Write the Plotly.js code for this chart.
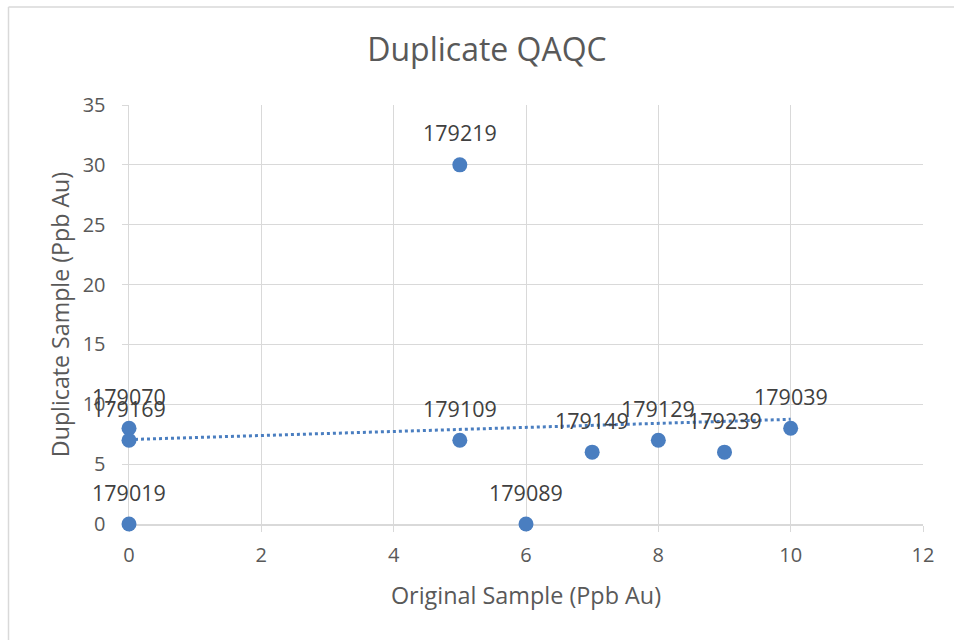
<!DOCTYPE html>
<html>
<head>
<meta charset="utf-8">
<script src="https://cdn.plot.ly/plotly-3.0.1.min.js"></script>
<style>html,body{margin:0;padding:0;background:#fff;}#chart{width:954px;height:640px;}</style>
</head>
<body>
<div id="chart"></div>
<script>
// Data
const sampleIds = ["179070","179169","179019","179219","179109","179089","179149","179129","179239","179039"];
const originalAu = [0, 0, 0, 5, 5, 6, 7, 8, 9, 10];
const duplicateAu = [8, 7, 0, 30, 7, 0, 6, 7, 6, 8];
const xTicks = [0, 2, 4, 6, 8, 10, 12];
const yTicks = [0, 5, 10, 15, 20, 25, 30, 35];

// Linear trendline (least squares) computed from the data
const n = originalAu.length;
const mx = originalAu.reduce((a,b)=>a+b,0)/n;
const my = duplicateAu.reduce((a,b)=>a+b,0)/n;
let sxy = 0, sxx = 0;
for (let i=0;i<n;i++){ sxy += (originalAu[i]-mx)*(duplicateAu[i]-my); sxx += (originalAu[i]-mx)**2; }
const slope = sxy/sxx, intercept = my - slope*mx;
const xmin = Math.min(...originalAu), xmax = Math.max(...originalAu);
const trendX = [], trendY = [];
for (let i=0;i<=50;i++){ const x = xmin + (xmax-xmin)*i/50; trendX.push(x); trendY.push(intercept+slope*x); }

const blue = "#4A7EC0";
const font = "Open Sans, sans-serif";

const traces = [
  {x: trendX, y: trendY, type: "scatter", mode: "lines", cliponaxis: false,
   line: {color: blue, width: 3, dash: "dot"}, hoverinfo: "skip", showlegend: false},
  {x: originalAu, y: duplicateAu, type: "scatter", mode: "markers", cliponaxis: false,
   marker: {color: blue, size: 15}, showlegend: false}
];

const annotations = sampleIds.map((id,i)=>({
  x: originalAu[i], y: duplicateAu[i], text: id, showarrow: false,
  yshift: 32, font: {family: font, size: 21.5, color: "#404040"}
}));

const layout = {
  width: 954, height: 640,
  margin: {l: 129, r: 31, t: 105, b: 116},
  paper_bgcolor: "#fff", plot_bgcolor: "#fff",
  font: {family: font, color: "#595959"},
  title: {text: "Duplicate QAQC", font: {family: font, size: 32, color: "#595959"},
          x: 487/954, xref: "container", xanchor: "center",
          y: 1-50/640, yref: "container", yanchor: "middle"},
  xaxis: {range: [0, 12], tickvals: xTicks, showgrid: true, gridcolor: "#d9d9d9", gridwidth: 1,
          zeroline: false, showline: true, linecolor: "#d9d9d9", linewidth: 1.5, layer: "below traces",
          ticks: "outside", ticklen: 6, tickcolor: "#d9d9d9",
          tickfont: {family: font, size: 20, color: "#595959"}, ticklabelstandoff: 6,
          title: {text: "Original Sample (Ppb Au)", font: {family: font, size: 23.4, color: "#595959"}, standoff: 21}},
  yaxis: {range: [0, 35], tickvals: yTicks, showgrid: true, gridcolor: "#d9d9d9", gridwidth: 1,
          zeroline: false, showline: true, linecolor: "#d9d9d9", linewidth: 1.5, layer: "below traces",
          ticks: "outside", ticklen: 6, tickcolor: "#d9d9d9",
          tickfont: {family: font, size: 20, color: "#595959"}, ticklabelstandoff: 12,
          title: {text: "Duplicate Sample (Ppb Au)", font: {family: font, size: 23.2, color: "#595959"}, standoff: 6}},
  annotations: annotations,
  shapes: [
    {type: "line", xref: "paper", yref: "paper", x0: (8.5-129)/794, x1: (954-129)/794,
     y0: (524-7)/419, y1: (524-7)/419, line: {color: "#d9d9d9", width: 1.5}},
    {type: "line", xref: "paper", yref: "paper", x0: (8.5-129)/794, x1: (8.5-129)/794,
     y0: (524-7)/419, y1: (524-640)/419, line: {color: "#d9d9d9", width: 1.5}}
  ]
};

Plotly.newPlot("chart", traces, layout, {displayModeBar: false, staticPlot: true});
</script>
</body>
</html>
